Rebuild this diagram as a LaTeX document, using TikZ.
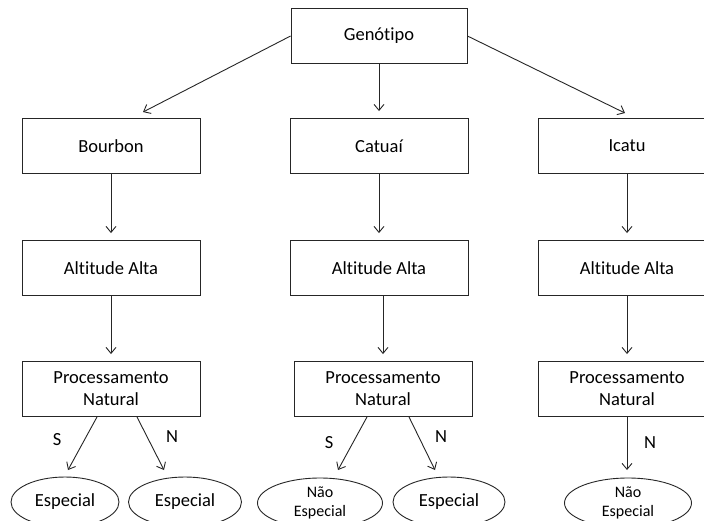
\documentclass[tikz,border=0pt]{standalone}
\usepackage{fontspec}
\setmainfont[Ligatures=NoCommon]{Carlito}
\usetikzlibrary{shapes.geometric,arrows.meta,calc}
\tikzset{
  box/.style={draw=black!85, line width=0.9pt, minimum width=178pt, minimum height=55pt, inner sep=0pt, align=center, font=\fontsize{18.5}{22}\selectfont},
  oval/.style={draw=black!85, line width=0.9pt, ellipse, inner sep=0pt, minimum height=50pt, align=center},
  arr/.style={draw=black!85, line width=0.9pt, -{Straight Barb[length=6pt,width=10pt]}},
  lbl/.style={font=\fontsize{18.5}{22}\selectfont, inner sep=0pt}
}
\begin{document}
\begin{tikzpicture}[x=1pt,y=-1pt]
\clip (0,0) rectangle (704,520);
\fill[white] (0,0) rectangle (704,520);
% nodes
\node[box, minimum width=176pt] (gen) at (379,36) {Genótipo};
\node[box] (b1) at (111,146) {Bourbon};
\node[box] (b2) at (379,146) {Catuaí};
\node[box] (b3) at (627,146) {Icatu};
\node[box] (a1) at (111,268) {Altitude Alta};
\node[box] (a2) at (379,268) {Altitude Alta};
\node[box] (a3) at (627,268) {Altitude Alta};
\node[box] (p1) at (111,389) {Processamento\\Natural};
\node[box] (p2) at (383,389) {Processamento\\Natural};
\node[box] (p3) at (627,389) {Processamento\\Natural};
\node[oval, minimum width=108pt, font=\fontsize{18.5}{22}\selectfont] (e1) at (65,502) {Especial};
\node[oval, minimum width=113pt, font=\fontsize{18.5}{22}\selectfont] (e2) at (185,502) {Especial};
\node[oval, minimum width=125pt, font=\fontsize{16}{19}\selectfont] (e3) at (320,503) {Não\\Especial};
\node[oval, minimum width=112pt, font=\fontsize{18.5}{22}\selectfont] (e4) at (449,502) {Especial};
\node[oval, minimum width=127pt, font=\fontsize{16}{19}\selectfont] (e5) at (628,503) {Não\\Especial};
% top connectors
\coordinate (t1) at ($(b1.north)+(32,-6)$);
\coordinate (t3) at ($(b3.north)+(-2,-5)$);
\draw[arr] (gen.west) -- (t1);
\draw[arr] (gen.east) -- (t3);
\draw[arr, shorten >=7pt] (gen.south) -- (b2.north);
% vertical connectors
\draw[arr, shorten >=7pt] (b1.south) -- (a1.north);
\draw[arr, shorten >=7pt] (b2.south) -- (a2.north);
\draw[arr, shorten >=7pt] (b3.south) -- (a3.north);
\draw[arr, shorten >=7pt] (a1.south) -- (p1.north);
\draw[arr, shorten >=7pt] (a2.south -| p2.north) -- (p2.north);
\draw[arr, shorten >=7pt] (a3.south) -- (p3.north);
% bottom connectors
\coordinate (s1a) at ($(p1.south)+(-14,0)$);
\coordinate (s1b) at (68,470);
\coordinate (n1a) at ($(p1.south)+(26,0)$);
\coordinate (n1b) at (164,470);
\coordinate (s2a) at ($(p2.south)+(-16,0)$);
\coordinate (s2b) at (338,470);
\coordinate (n2a) at ($(p2.south)+(26,0)$);
\coordinate (n2b) at (435,470);
\coordinate (n3b) at (627,470);
\draw[arr] (s1a) -- (s1b);
\draw[arr] (n1a) -- (n1b);
\draw[arr] (s2a) -- (s2b);
\draw[arr] (n2a) -- (n2b);
\draw[arr] (p3.south) -- (n3b);
% labels
\node[lbl] (ls1) at (57,440) {S};
\node[lbl] (ln1) at (172,437) {N};
\node[lbl] (ls2) at (329,443) {S};
\node[lbl] (ln2) at (441,437) {N};
\node[lbl] (ln3) at (650,443) {N};
\end{tikzpicture}
\end{document}
